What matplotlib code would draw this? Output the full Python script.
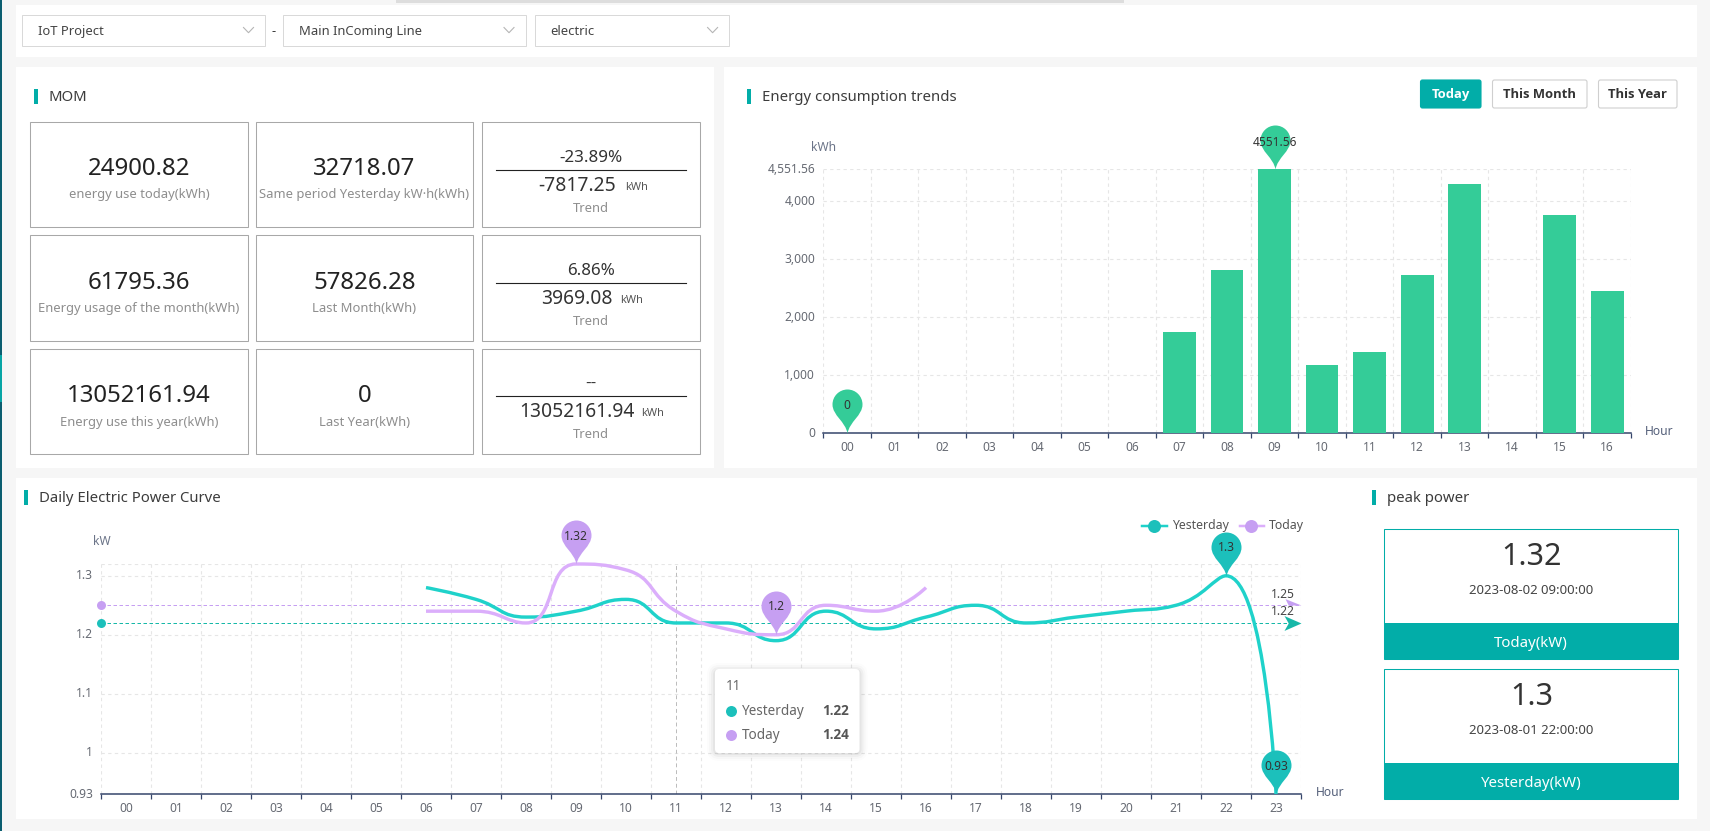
import numpy as np
import matplotlib
matplotlib.use("Agg")
import matplotlib.pyplot as plt
from matplotlib.path import Path
from matplotlib.patches import Rectangle, FancyBboxPatch, PathPatch
from matplotlib.transforms import ScaledTranslation

plt.rcParams['font.family'] = ['Noto Sans', 'DejaVu Sans']

# ---------- data ----------
energy_hours = ['00','01','02','03','04','05','06','07','08','09','10','11','12','13','14','15','16']
energy_values = [0,0,0,0,0,0,0,1750,2812,4551.56,1182,1406,2720,4293,0,3759,2456]
energy_ticks = [0,1000,2000,3000,4000,4551.56]
energy_tick_labels = ['0','1,000','2,000','3,000','4,000','4,551.56']

power_hours = ['%02d' % h for h in range(24)]
yesterday_hours = [6,7,8,9,10,11,12,13,14,15,16,17,18,19,20,21,22,23]
yesterday_values = [1.28,1.26,1.23,1.24,1.26,1.22,1.22,1.19,1.24,1.21,1.23,1.25,1.22,1.23,1.24,1.25,1.3,0.93]
today_hours = [6,7,8,9,10,11,12,13,14,15,16]
today_values = [1.24,1.24,1.22,1.32,1.31,1.24,1.21,1.2,1.25,1.24,1.28]
yesterday_avg = 1.22
today_avg = 1.25
power_ticks = [0.93,1,1.1,1.2,1.3]
power_tick_labels = ['0.93','1','1.1','1.2','1.3']

mom_big = ['24900.82','32718.07','61795.36','57826.28','13052161.94','0']
mom_labels = ['energy use today(kWh)','Same period Yesterday kW·h(kWh)',
              'Energy usage of the month(kWh)','Last Month(kWh)',
              'Energy use this year(kWh)','Last Year(kWh)']
trend_pct = ['-23.89%','6.86%','--']
trend_val = ['-7817.25','3969.08','13052161.94']

peak_values = ['1.32','1.3']
peak_dates = ['2023-08-02 09:00:00','2023-08-01 22:00:00']
peak_names = ['Today(kW)','Yesterday(kW)']

select_names = ['IoT Project','Main InComing Line','electric']
button_names = ['Today','This Month','This Year']

# ---------- style ----------
TEAL='#02ada8'; BAR='#34cc98'; LINE_Y='#1fd2ca'; MARK_Y='#1cc0bb'; LINE_T='#dbaefb'; MARK_T='#c69ff2'
NAVY='#36466b'; GRID='#e6e6e6'; TICK='#666a73'
W,H=1710,831
def px(v): return v*0.72

fig=plt.figure(figsize=(W/100,H/100),dpi=100,facecolor='#f6f6f6')
bg=fig.add_axes([0,0,1,1],zorder=0); bg.set_xlim(0,W); bg.set_ylim(H,0); bg.axis('off')
top=fig.add_axes([0,0,1,1],zorder=3); top.set_xlim(0,W); top.set_ylim(H,0); top.axis('off'); top.patch.set_alpha(0)

def rect(a,x0,y0,x1,y1,fc='white',ec='none',lw=0,z=1):
    a.add_patch(Rectangle((x0,y0),x1-x0,y1-y0,fc=fc,ec=ec,lw=lw,zorder=z))
def text(a,x,y,s,size,color='#333333',ha='center',weight='normal',z=5,family=None):
    a.text(x,y+1.8,s,fontsize=px(size),color=color,ha=ha,va='center',fontweight=weight,zorder=z,
           family=family if family else ['Noto Sans','DejaVu Sans'])

# page furniture
rect(bg,0,0,2,H,fc='#0b5e70')
rect(bg,0,355,2,402,fc='#07a5a5')
rect(bg,396,0,1124,3,fc='#dddddd')
rect(bg,16,5,1697,57)
rect(bg,16,67,714,468)
rect(bg,724,67,1697,468)
rect(bg,16,478,1697,819)

def header(x,y,s,xt):
    rect(bg,x,y,x+4,y+15,fc=TEAL,z=2)
    text(bg,xt,y+7,s,14.9,ha='left',color='#3c3c3c')
header(34,89,'MOM',48.5)
header(747,89,'Energy consumption trends',762)
header(24,490,'Daily Electric Power Curve',39)
header(1372,490,'peak power',1387)

# selects
sel_x=[(22,265,38,243.5),(283,526,298.5,504),(535,729,550.5,707.6)]
for (x0,x1,xt,xc),name in zip(sel_x,select_names):
    rect(bg,x0,15,x1,46,ec='#d9d9d9',lw=0.72,z=2)
    text(bg,xt,30,name,13,ha='left',color='#444444')
    bg.plot([xc,xc+5,xc+10],[27.5,32.7,27.5],color='#b5b5b5',lw=0.8,zorder=3)
text(bg,274,30,'-',13)

# MOM boxes
cols=[(30,248),(256,473),(482,700)]
rows=[(122,227),(235,341),(349,454)]
big_y=[167,281,394]; lab_y=[193,307,421]
pct_y=[156,269,382]; rule_y=[170,283,396]; val_y=[184,297,410]; tr_y=[207,320,433]
for r,(y0,y1) in enumerate(rows):
    for c,(x0,x1) in enumerate(cols):
        rect(bg,x0,y0,x1,y1,ec='#a8a8a8',lw=0.75,z=2)
    for c in range(2):
        xm=sum(cols[c])/2
        text(bg,xm,big_y[r],mom_big[2*r+c],24,color='#222222')
        text(bg,xm,lab_y[r],mom_labels[2*r+c],13,color='#8e8e8e')
    xm=sum(cols[2])/2
    text(bg,xm,pct_y[r],trend_pct[r],17,color='#333333',family=['Liberation Sans'] if trend_pct[r]=='--' else None)
    bg.plot([496,686],[rule_y[r]]*2,color='#222222',lw=0.8,zorder=3)
    text(bg,xm-14,val_y[r],trend_val[r],19.3,color='#333333')
    w=len(trend_val[r])*10.6
    text(bg,xm-14+w/2+6,val_y[r]+2,'kWh',11,ha='left',color='#555555')
    text(bg,xm,tr_y[r],'Trend',13,color='#8e8e8e')

# buttons
btn=[(1419.5,1482),(1491.5,1588),(1597.5,1678)]
for i,((x0,x1),name) in enumerate(zip(btn,button_names)):
    active=i==0
    bg.add_patch(FancyBboxPatch((x0+1,80),x1-x0-2,28,boxstyle='round,pad=0,rounding_size=2',
                 fc=TEAL if active else 'white',ec=TEAL if active else '#cfcfcf',lw=0.8,zorder=2))
    text(bg,(x0+x1)/2,93,name,13,color='white' if active else '#333333',weight='bold',family=['Open Sans'])

# peak cards
for (y0,yf,y1),v,d,n,yv,yd,yn in zip([(529,623,659),(669,763,799)],peak_values,peak_dates,peak_names,
                                     [555,695],[589,729],[642,782]):
    rect(bg,1384,y0,1678,y1,ec=TEAL,lw=0.75,z=2)
    rect(bg,1384,yf,1678,y1,fc=TEAL,z=3)
    text(bg,1532,yv,v,30.5,color='#333333')
    text(bg,1531,yd,d,13.2,color='#444444')
    text(bg,1531,yn,n,15,color='white')

# ---------- chart helpers ----------
pin_pts=[(0,0),(2,12),(15,18),(15,29),(15,37.3),(8.3,44),(0,44),(-8.3,44),(-15,37.3),(-15,29),(-15,18),(-2,12),(0,0),(0,0)]
PIN=Path(pin_pts,[Path.MOVETO]+[Path.CURVE4]*12+[Path.CLOSEPOLY])
ARROW=Path([(0,0),(-16,7),(-12,0),(-16,-7),(0,0)],[Path.MOVETO,Path.LINETO,Path.LINETO,Path.LINETO,Path.CLOSEPOLY])
HALF=Path([(0,0),(-15,6),(-12,0),(0,0)],[Path.MOVETO,Path.LINETO,Path.LINETO,Path.CLOSEPOLY])

def pin(ax,x,y,label,color,offset=28,z=8):
    ax.plot([x],[y],marker=PIN,ms=px(88),color=color,mew=0,clip_on=False,zorder=z,ls='none')
    ax.annotate(label,(x,y),xytext=(0,px(offset)),textcoords='offset points',ha='center',va='center',
                fontsize=px(12),color='#333333',zorder=z+1,annotation_clip=False)

def frame(rect_px,n,labels,ymin,ymax,ticks,tlabels):
    x0,y0,x1,y1=rect_px
    ax=fig.add_axes([x0/W,1-y1/H,(x1-x0)/W,(y1-y0)/H],zorder=1)
    ax.patch.set_alpha(0)
    ax.set_xlim(0,n); ax.set_ylim(ymin,ymax)
    for s in ['top','left','right']: ax.spines[s].set_visible(False)
    ax.spines['bottom'].set_color(NAVY); ax.spines['bottom'].set_linewidth(1.1)
    ax.set_xticks(np.arange(n+1))
    ax.set_xticklabels([])
    ax.set_xticks(np.arange(n)+0.5,minor=True)
    ax.set_xticklabels(labels,minor=True,fontsize=px(12),color=TICK)
    ax.tick_params(axis='x',which='major',length=px(5),color=NAVY,width=0.9)
    ax.tick_params(axis='x',which='minor',length=0,pad=px(7.5))
    ax.set_yticks(ticks); ax.set_yticklabels(tlabels,fontsize=px(12),color=TICK)
    ax.tick_params(axis='y',length=0,pad=px(8))
    up=ScaledTranslation(0,1.5/100,fig.dpi_scale_trans)
    for lb in ax.get_yticklabels():
        lb.set_transform(lb.get_transform()+up)
    ax.grid(True,which='major',axis='both',color=GRID,lw=0.8,ls=(0,(3,3)))
    ax.set_axisbelow(True)
    return ax

# ---------- bar chart ----------
ax1=frame((823,169,1631,433.3),len(energy_hours),energy_hours,0,max(energy_values),energy_ticks,energy_tick_labels)
xb=np.arange(len(energy_hours))+0.5
ax1.bar(xb,energy_values,width=0.69,color=BAR,zorder=3)
imax=int(np.argmax(energy_values)); imin=int(np.argmin(energy_values))
pin(ax1,xb[imax],energy_values[imax],'%g'%energy_values[imax],BAR,offset=27)
pin(ax1,xb[imin],energy_values[imin],'%g'%energy_values[imin],BAR,offset=28)
text(bg,823.5,145.5,'kWh',12,color='#6b7488')
text(bg,1645,430,'Hour',12,ha='left',color='#55607a')

# ---------- line chart ----------
ax2=frame((101,564,1301,794),24,power_hours,0.93,1.32,power_ticks,power_tick_labels)
ax2.axhline(1.32,color=GRID,lw=0.8,ls=(0,(3,3)),zorder=0)

def smooth_path(ax,xs,ys,k=0.5):
    """Bezier through the data points, same control point rule as an ECharts smooth line."""
    P=ax.transData.transform(np.column_stack([xs,ys]))
    n=len(P); cps=[]
    for i in range(n):
        p=P[i]
        if i==0 or i==n-1:
            cps.append((p.copy(),p.copy())); continue
        a,b=P[i-1],P[i+1]
        v=(b-a)*k
        lp=np.linalg.norm(p-a); ln=np.linalg.norm(b-p)
        r=ln/(ln+lp)
        c1=p+v*r
        c1=np.minimum(c1,np.maximum(b,p)); c1=np.maximum(c1,np.minimum(b,p))
        v=c1-p
        c0=p-v*lp/ln
        c0=np.minimum(c0,np.maximum(a,p)); c0=np.maximum(c0,np.minimum(a,p))
        v=p-c0
        c1=p+v*ln/lp
        cps.append((c0,c1))
    verts=[P[0]]; codes=[Path.MOVETO]
    for i in range(n-1):
        verts+= [cps[i][1],cps[i+1][0],P[i+1]]
        codes+= [Path.CURVE4]*3
    return Path(ax.transData.inverted().transform(np.array(verts)),codes)

xy=np.array(yesterday_hours)+0.5
xt=np.array(today_hours)+0.5
ax2.add_patch(PathPatch(smooth_path(ax2,xy,yesterday_values),fc='none',ec=LINE_Y,lw=px(3.4),zorder=4,clip_on=False,capstyle='butt'))
ax2.add_patch(PathPatch(smooth_path(ax2,xt,today_values),fc='none',ec=LINE_T,lw=px(3.4),zorder=4.5,clip_on=False,capstyle='butt'))

# average lines
for val,col,mk,ms in [(today_avg,'#c69ff2',HALF,px(32)),(yesterday_avg,'#17b8a8',ARROW,px(34))]:
    ax2.plot([0,24],[val,val],color=col,lw=0.72,ls=(0,(3.5,2.5)),zorder=3,clip_on=False,snap=True)
    ax2.plot([0],[val],marker='o',ms=px(9),color=col if col!='#17b8a8' else MARK_Y,mew=0,zorder=6,clip_on=False)
    ax2.plot([24],[val],marker=mk,ms=ms,color=col,mew=0,zorder=9,clip_on=False)
    ax2.annotate('%g'%val,(24,val),xytext=(px(-6),px(11)),textcoords='offset points',ha='right',va='center',
                 fontsize=px(12),color='#444444',zorder=7,annotation_clip=False)

# extremes
def extreme(xs,ys,fn,color):
    i=int(fn(ys)); pin(ax2,xs[i],ys[i],'%g'%ys[i],color)
extreme(xt,today_values,np.argmax,MARK_T)
extreme(xt,today_values,np.argmin,MARK_T)
extreme(xy,yesterday_values,np.argmax,MARK_Y)
extreme(xy,yesterday_values,np.argmin,MARK_Y)

# crosshair at hovered hour
HOVER=11
ax2.plot([HOVER+0.5]*2,[0.93,1.32],color='#bbbbbb',lw=0.7,ls=(0,(4,3)),zorder=2)

text(bg,102,540,'kW',12,color='#6b7488')
text(bg,1316,791,'Hour',12,ha='left',color='#55607a')

# legend
for x0,x1,xc,xl,name,col,mc in [(1142,1166.5,1154,1172,'Yesterday',LINE_Y,MARK_Y),(1239.5,1264,1251,1269,'Today',LINE_T,MARK_T)]:
    top.plot([x0,x1],[526,526],color=col,lw=px(2.5),zorder=4)
    top.plot([xc],[526],marker='o',ms=px(13),color=mc,mew=0,zorder=5)
    text(top,xl,524,name,12.3,ha='left',color='#555555')

# tooltip
for g,al in [(8,0.012),(6,0.02),(4,0.03),(2,0.04)]:
    top.add_patch(FancyBboxPatch((715-g,671-g),144.5+2*g,82+2*g,boxstyle='round,pad=0,rounding_size=%g'%(4+g),
                                 fc='black',ec='none',alpha=al,zorder=6))
top.add_patch(FancyBboxPatch((715,669),144.5,84,boxstyle='round,pad=0,rounding_size=4',fc='white',ec='none',zorder=7))
text(top,726,685,power_hours[HOVER],13.5,ha='left',color='#666666',z=8)
hy=yesterday_values[yesterday_hours.index(HOVER)]; ht=today_values[today_hours.index(HOVER)]
for yy,name,val,mc in [(711,'Yesterday',hy,MARK_Y),(735,'Today',ht,MARK_T)]:
    top.plot([731],[yy],marker='o',ms=px(11),color=mc,mew=0,zorder=8)
    text(top,742,yy-1.5,name,13.5,ha='left',color='#666666',z=8)
    text(top,849,yy-1.5,'%.2f'%val,13.5,ha='right',color='#555555',weight='bold',z=8,family=['Open Sans'])

fig.savefig('out.png',dpi=100,facecolor=fig.get_facecolor())
